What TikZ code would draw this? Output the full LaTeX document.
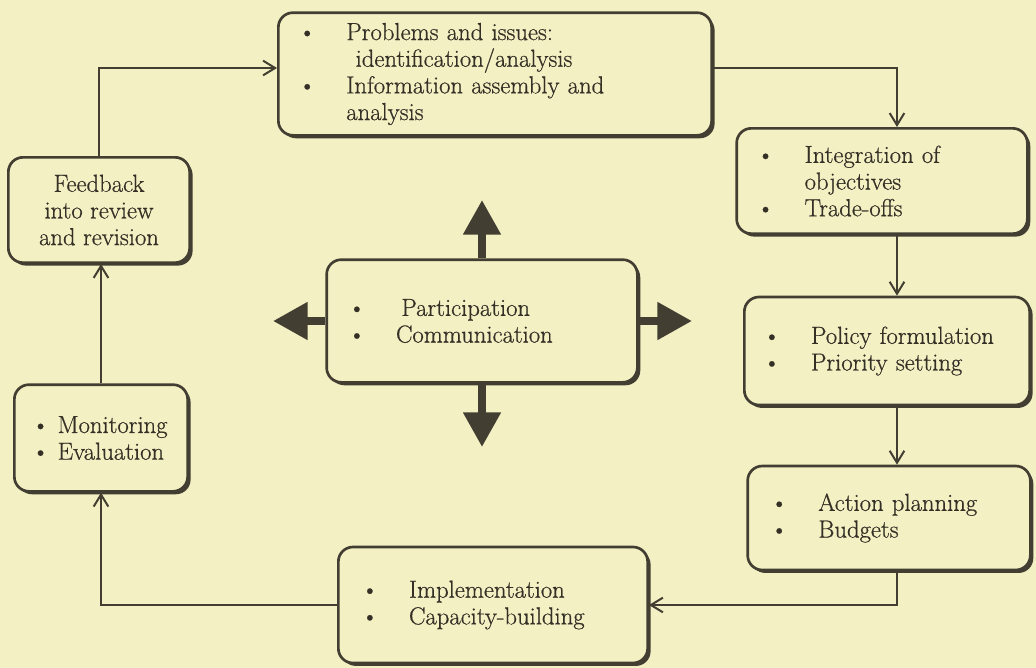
\documentclass[tikz,border=0pt]{standalone}
\usepackage{fontspec}
\setmainfont{Latin Modern Roman}[FakeBold=0.6]
\usetikzlibrary{arrows.meta,shadows}
\definecolor{paper}{RGB}{243,240,196}
\definecolor{ink}{RGB}{66,62,50}
\definecolor{words}{RGB}{52,48,38}
\tikzset{
  box/.style={draw=ink, line width=2pt, rounded corners=11pt, fill=paper, text=words, align=left,
    drop shadow={shadow xshift=2.2pt, shadow yshift=-2.2pt, fill=ink, opacity=1}},
  flow/.style={draw=ink, line width=1.5pt, -{Straight Barb[length=9pt,width=11pt]}},
  fat/.style={draw=ink, fill=ink, line width=6pt, -{Triangle[width=27pt,length=26pt]}}
}
\newcommand\itm{\makebox[36pt][l]{\textbullet}}

\begin{document}
\begin{tikzpicture}[x=0.75pt, y=-0.75pt, font=\fontsize{18.5}{20}\selectfont]
\fill[paper] (0,0) rectangle (1036,668);
\useasboundingbox (0,0) rectangle (1036,668);
\node[box, minimum width=325pt, minimum height=92pt, inner xsep=15pt, text width=295pt] (prob) at (495,74)
	{\itm Problems and issues:\\ \hspace*{43pt}identification/analysis\\ \itm Information assembly and\\ \hspace*{36pt}analysis};
\node[box, align=center, minimum width=136pt, minimum height=79pt] (fb) at (99,210)
	{Feedback\\ into review\\ and revision};
\node[box, minimum width=130pt, minimum height=80pt, inner xsep=13pt, text width=104pt] (mon) at (101,438)
	{\textbullet\ Monitoring\\ \textbullet\ Evaluation};
\node[box, minimum width=233pt, minimum height=92pt, inner xsep=16pt, text width=201pt] (part) at (482,321)
	{\itm\hspace{4pt}Participation\\ \itm Communication};
\node[box, minimum width=218pt, minimum height=79pt, inner xsep=15pt, text width=188pt] (integ) at (882,181)
	{\itm Integration of\\ \hspace*{36pt}objectives\\ \itm Trade-offs};
\node[box, minimum width=214pt, minimum height=81pt, inner xsep=14pt, text width=186pt] (policy) at (887,351)
	{\itm Policy formulation\\ \itm Priority setting};
\node[box, minimum width=212pt, minimum height=78pt, inner xsep=17pt, text width=178pt] (action) at (889,518)
	{\itm Action planning\\ \itm Budgets};
\node[box, minimum width=232pt, minimum height=87pt, inner xsep=17pt, text width=198pt] (impl) at (493,605)
	{\itm Implementation\\ \itm Capacity-building};
\coordinate (col) at (897,0);
\coordinate (upT) at (482,200);
\coordinate (leftT) at (273,321);
\coordinate (rightT) at (692,321);
\coordinate (downT) at (482,447);
\draw[fat] (part.north) to (upT);
\draw[fat] (part.west) to (leftT);
\draw[fat] (part.east) to (rightT);
\draw[fat] (part.south) to (downT);
\draw[flow] (fb.north) |- ([yshift=4.5pt]prob.west);
\draw[flow] ([yshift=4.5pt]prob.east) -| (integ.north -| col);
\draw[flow] (integ.south -| col) to (policy.north -| col);
\draw[flow] (policy.south -| col) to (action.north -| col);
\draw[flow] (action.south -| col) |- (impl.east);
\draw[flow] (impl.west) -| (mon.south);
\draw[flow] (mon.north) to (mon.north |- fb.south);
\end{tikzpicture}
\end{document}
